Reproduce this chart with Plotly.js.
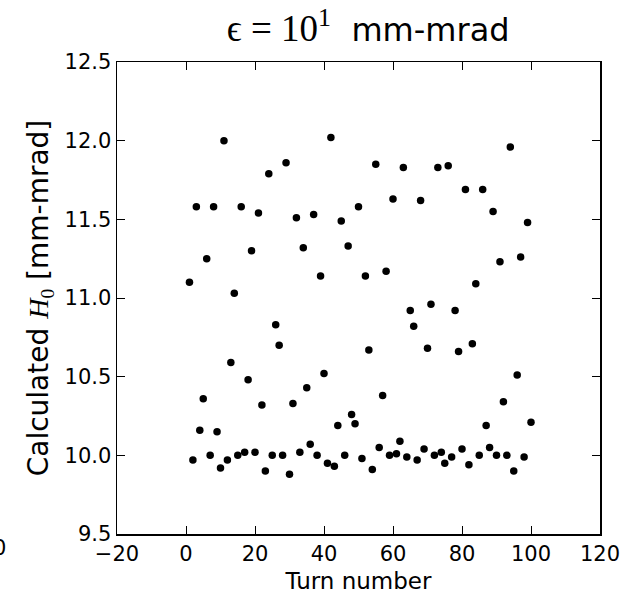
<!DOCTYPE html>
<html>
<head>
<meta charset="utf-8">
<script src="https://cdn.plot.ly/plotly-3.0.1.min.js"></script>
<style>html,body{margin:0;padding:0;background:#fff}#chart{width:628px;height:598px}</style>
</head>
<body>
<div id="chart"></div>
<script>
const turns = [1,2,3,4,5,6,7,8,9,10,11,12,13,14,15,16,17,18,19,20,21,22,23,24,25,26,27,28,29,30,31,32,33,34,35,36,37,38,39,40,41,42,43,44,45,46,47,48,49,50,51,52,53,54,55,56,57,58,59,60,61,62,63,64,65,66,67,68,69,70,71,72,73,74,75,76,77,78,79,80,81,82,83,84,85,86,87,88,89,90,91,92,93,94,95,96,97,98,99,100];
const h0 = [11.10,9.97,11.58,10.16,10.36,11.25,10.00,11.58,10.15,9.92,12.00,9.97,10.59,11.03,10.00,11.58,10.02,10.48,11.30,10.02,11.54,10.32,9.90,11.79,10.00,10.83,10.70,10.00,11.86,9.88,10.33,11.51,10.02,11.32,10.43,10.07,11.53,10.00,11.14,10.52,9.95,12.02,9.93,10.19,11.49,10.00,11.33,10.26,10.20,11.58,9.98,11.14,10.67,9.91,11.85,10.05,10.38,11.17,10.00,11.63,10.01,10.09,11.83,9.99,10.92,10.82,9.97,11.62,10.04,10.68,10.96,10.00,11.83,10.02,9.95,11.84,9.99,10.92,10.66,10.04,11.69,9.94,10.71,11.09,10.00,11.69,10.19,10.05,11.55,10.00,11.23,10.34,10.00,11.96,9.90,10.51,11.26,9.99,11.48,10.21];
const xTicks = [-20,0,20,40,60,80,100,120];
const yTicks = [9.5,10.0,10.5,11.0,11.5,12.0,12.5];

const SERIF = "Liberation Serif";
const axisCommon = {
  showgrid: false, zeroline: false, showline: true, mirror: 'ticks',
  linecolor: '#000', linewidth: 1.5, ticks: 'inside', ticklen: 8, tickwidth: 1,
  tickcolor: '#000', tickfont: {family: 'DejaVu Sans', size: 21, color: '#000'}
};
const layout = {
  width: 628, height: 598,
  margin: {l: 117, r: 28, t: 62, b: 64},
  paper_bgcolor: '#fff', plot_bgcolor: '#fff',
  showlegend: false,
  title: {
    text: "<span style='font-family:" + SERIF + ";font-size:37px'>\u03f5 = 10<sup>1</sup></span>  mm-mrad",
    font: {family: 'DejaVu Sans', size: 32, color: '#000'},
    x: 0.52, xref: 'paper', y: 0.95, yanchor: 'middle'
  },
  xaxis: Object.assign({}, axisCommon, {
    range: [-20, 120], tickvals: xTicks, ticktext: xTicks.map(v => v < 0 ? '\u2212' + Math.abs(v) : String(v)),
    title: {text: 'Turn number', font: {family: 'DejaVu Sans', size: 23, color: '#000'}, standoff: 8}
  }),
  yaxis: Object.assign({}, axisCommon, {
    range: [9.5, 12.5], tickvals: yTicks, ticktext: yTicks.map(v => v.toFixed(1)),
    title: {text: "Calculated <span style='font-family:" + SERIF + "'><i>H</i><sub>0</sub></span> [mm-mrad]", font: {family: 'DejaVu Sans', size: 28, color: '#000'}, standoff: 7}
  }),
  annotations: [{
    text: '0', xref: 'paper', yref: 'paper', x: -0.2443, y: -0.03, xanchor: 'center', yanchor: 'middle',
    showarrow: false, font: {family: 'DejaVu Sans', size: 21, color: '#000'}
  }]
};
Plotly.newPlot('chart', [{
  x: turns, y: h0, type: 'scatter', mode: 'markers',
  marker: {color: '#000', size: 7.5, line: {width: 0}}, cliponaxis: false
}], layout, {staticPlot: true});
</script>
</body>
</html>
